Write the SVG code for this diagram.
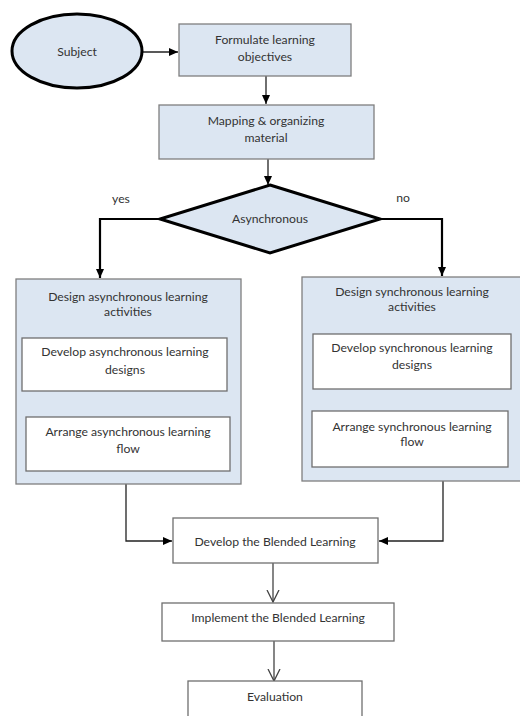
<svg xmlns="http://www.w3.org/2000/svg" width="520" height="716" viewBox="0 0 520 716">
<defs>
<style>
.t{font-family:Lato,"Liberation Sans",sans-serif;font-size:12.2px;fill:#333;text-anchor:middle}
.blue{fill:#dce6f2;stroke:#7f7f7f;stroke-width:1.3}
.white{fill:#ffffff;stroke:#6f6f6f;stroke-width:1.3}
.thick{fill:#dce6f2;stroke:#000;stroke-width:3}
.c{fill:none;stroke:#222;stroke-width:1.3}
.cb{fill:none;stroke:#000;stroke-width:2.2}
.cg{fill:none;stroke:#444;stroke-width:1.3}
</style>
<marker id="ah" markerWidth="10" markerHeight="10" refX="9" refY="5" orient="auto" markerUnits="userSpaceOnUse">
<path d="M0,1 L9,5 L0,9 Z" fill="#000"/>
</marker>
<marker id="av" markerWidth="14" markerHeight="14" refX="12" refY="7" orient="auto" markerUnits="userSpaceOnUse">
<path d="M0,1 L12,7 L0,13" fill="none" stroke="#444" stroke-width="1.3"/>
</marker>
</defs>
<rect width="520" height="716" fill="#fff"/>

<g id="connectors">
<line class="c" x1="137" y1="52" x2="178" y2="52" marker-end="url(#ah)"/>
<line class="c" x1="266" y1="76" x2="266" y2="104" marker-end="url(#ah)"/>
<line class="c" x1="268" y1="159" x2="268" y2="185" marker-end="url(#ah)"/>
<polyline class="cb" points="160,219 100,219 100,278" marker-end="url(#ah)"/>
<polyline class="cb" points="380,219 442,219 442,276" marker-end="url(#ah)"/>
<line class="c" x1="125" y1="391" x2="125" y2="416" marker-end="url(#ah)"/>
<line class="c" x1="412" y1="389" x2="412" y2="410" marker-end="url(#ah)"/>
<polyline class="c" points="126,484 126,541 172,541" marker-end="url(#ah)"/>
<polyline class="c" points="443,481 443,541 379,541" marker-end="url(#ah)"/>
<line class="cg" x1="273" y1="563" x2="273" y2="602" marker-end="url(#av)"/>
<line class="cg" x1="274" y1="641" x2="274" y2="681" marker-end="url(#av)"/>
</g>

<g id="subject">
<ellipse class="thick" cx="77" cy="51" rx="65" ry="37"/>
<text class="t" x="77" y="56">Subject</text>
</g>

<g id="formulate">
<rect class="blue" x="179" y="24" width="172" height="52"/>
<text class="t" x="265" y="44">Formulate learning</text>
<text class="t" x="265" y="61">objectives</text>
</g>

<g id="mapping">
<rect class="blue" x="159" y="105" width="215" height="54"/>
<text class="t" x="266" y="125">Mapping &amp; organizing</text>
<text class="t" x="266" y="142">material</text>
</g>

<g id="decision">
<polygon class="thick" points="270,185 380,219 270,253 160,219"/>
<text class="t" x="270" y="223">Asynchronous</text>
<text class="t" x="121" y="203">yes</text>
<text class="t" x="403" y="202">no</text>
</g>

<g id="async">
<rect class="blue" x="16" y="279" width="225" height="205"/>
<text class="t" x="128" y="301">Design asynchronous learning</text>
<text class="t" x="128" y="316">activities</text>
</g>

<g id="async-develop">
<rect class="white" x="22" y="338" width="205" height="53"/>
<text class="t" x="125" y="356">Develop asynchronous learning</text>
<text class="t" x="125" y="374">designs</text>
</g>

<g id="async-arrange">
<rect class="white" x="26" y="417" width="204" height="54"/>
<text class="t" x="128" y="436">Arrange asynchronous learning</text>
<text class="t" x="128" y="453">flow</text>
</g>

<g id="sync">
<rect class="blue" x="302" y="277" width="225" height="204"/>
<text class="t" x="412" y="296">Design synchronous learning</text>
<text class="t" x="412" y="311">activities</text>
</g>

<g id="sync-develop">
<rect class="white" x="313" y="334" width="198" height="55"/>
<text class="t" x="412" y="352">Develop synchronous learning</text>
<text class="t" x="412" y="369">designs</text>
</g>

<g id="sync-arrange">
<rect class="white" x="312" y="411" width="196" height="56"/>
<text class="t" x="412" y="431">Arrange synchronous learning</text>
<text class="t" x="412" y="446">flow</text>
</g>

<g id="develop-blended">
<rect class="white" x="173" y="518" width="205" height="45"/>
<text class="t" x="275" y="546">Develop the Blended Learning</text>
</g>

<g id="implement">
<rect class="white" x="162" y="603" width="232" height="38"/>
<text class="t" x="278" y="622">Implement the Blended Learning</text>
</g>

<g id="evaluation">
<rect class="white" x="188" y="681" width="174" height="45"/>
<text class="t" x="275" y="701">Evaluation</text>
</g>
</svg>
